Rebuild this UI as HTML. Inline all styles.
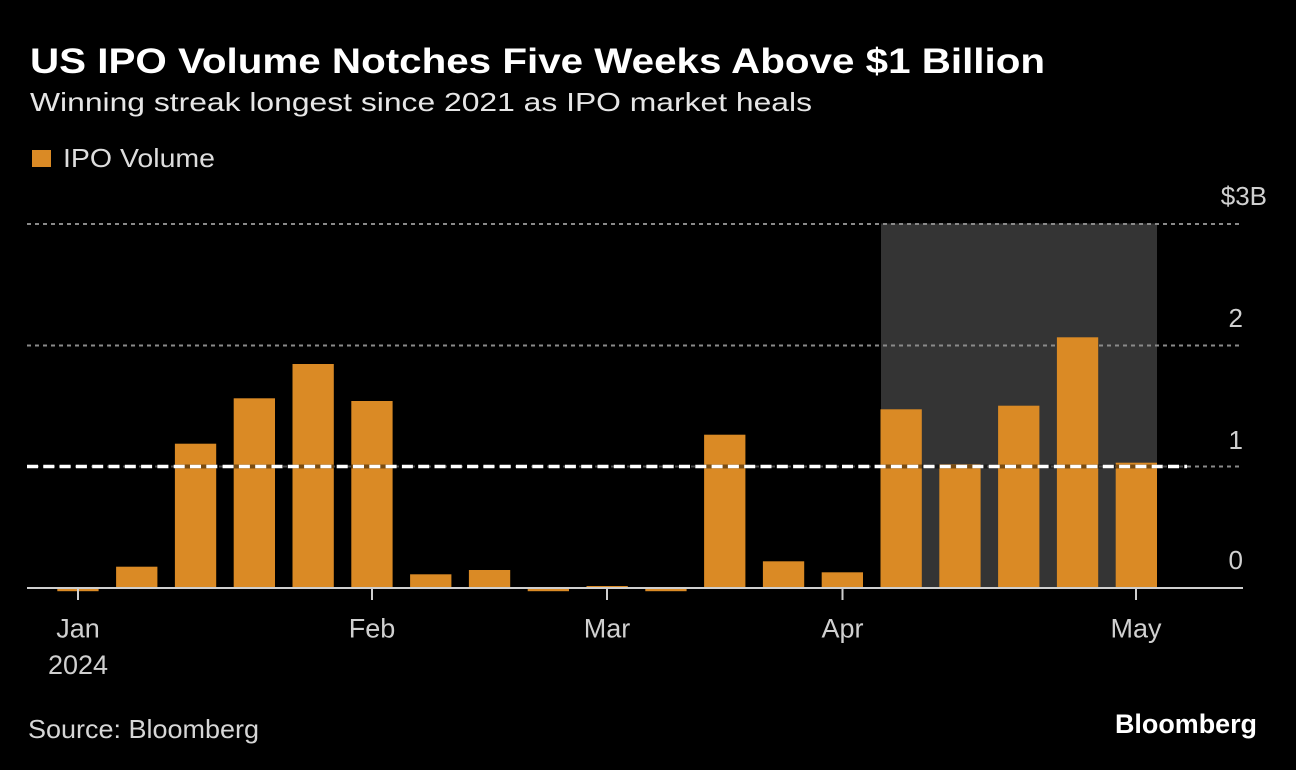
<!DOCTYPE html>
<html>
<head>
<meta charset="utf-8">
<style>
html,body{margin:0;padding:0;background:#000;}
svg{display:block;}
text{font-family:"Liberation Sans","DejaVu Sans",sans-serif;}
</style>
</head>
<body>
<svg width="1296" height="770" viewBox="0 0 1296 770" xmlns="http://www.w3.org/2000/svg">
<rect x="0" y="0" width="1296" height="770" fill="#000"/>

<!-- Title / subtitle -->
<text x="30" y="73" font-size="35" font-weight="bold" fill="#ffffff" textLength="1015" lengthAdjust="spacingAndGlyphs">US IPO Volume Notches Five Weeks Above $1 Billion</text>
<text x="30" y="111" font-size="26" fill="#e6e6e6" textLength="782" lengthAdjust="spacingAndGlyphs">Winning streak longest since 2021 as IPO market heals</text>

<!-- Legend -->
<rect x="32" y="150" width="19" height="17" fill="#DA8A25"/>
<text x="63" y="167" font-size="26" fill="#dddddd" textLength="152" lengthAdjust="spacingAndGlyphs">IPO Volume</text>

<!-- Shaded region -->
<rect x="881" y="223.5" width="276" height="364.5" fill="#343434"/>

<!-- Gridlines -->
<g stroke="#8a8a8a" stroke-width="2" stroke-dasharray="4 4">
  <line x1="27" y1="224" x2="1242" y2="224"/>
  <line x1="27" y1="345.5" x2="1242" y2="345.5"/>
  <line x1="27" y1="466.5" x2="1242" y2="466.5"/>
</g>

<!-- Bars -->
<g fill="#DA8A25">
  <rect x="116.1" y="566.7" width="41.3" height="21.3"/>
  <rect x="174.9" y="443.7" width="41.3" height="144.3"/>
  <rect x="233.7" y="398.3" width="41.3" height="189.7"/>
  <rect x="292.5" y="364" width="41.3" height="224"/>
  <rect x="351.3" y="401" width="41.3" height="187"/>
  <rect x="410.1" y="574.3" width="41.3" height="13.7"/>
  <rect x="468.9" y="570" width="41.3" height="18"/>
  <rect x="586.5" y="586" width="41.3" height="2"/>
  <rect x="704.1" y="434.7" width="41.3" height="153.3"/>
  <rect x="762.9" y="561.3" width="41.3" height="26.7"/>
  <rect x="821.7" y="572.3" width="41.3" height="15.7"/>
  <rect x="880.5" y="409.3" width="41.3" height="178.7"/>
  <rect x="939.3" y="464.3" width="41.3" height="123.7"/>
  <rect x="998.1" y="405.7" width="41.3" height="182.3"/>
  <rect x="1056.9" y="337.3" width="41.3" height="250.7"/>
  <rect x="1115.7" y="462.7" width="41.3" height="125.3"/>
</g>

<!-- $1B threshold dashed line -->
<line x1="27" y1="466.5" x2="1187" y2="466.5" stroke="rgba(0,0,0,0.45)" stroke-width="4"/>
<line x1="27" y1="466.5" x2="1187" y2="466.5" stroke="#ffffff" stroke-width="3.5" stroke-dasharray="11 5.3"/>

<!-- Axis -->
<line x1="27" y1="588" x2="1243" y2="588" stroke="#cfcfcf" stroke-width="2"/>
<!-- negative bars (drawn below axis) -->
<g fill="#DA8A25">
  <rect x="57.3" y="589" width="41.3" height="2.2"/>
  <rect x="527.7" y="589" width="41.3" height="2.2"/>
  <rect x="645.3" y="589" width="41.3" height="2.2"/>
</g>
<g stroke="#cfcfcf" stroke-width="2">
  <line x1="78" y1="588" x2="78" y2="600"/>
  <line x1="372" y1="588" x2="372" y2="600"/>
  <line x1="607" y1="588" x2="607" y2="600"/>
  <line x1="842.5" y1="588" x2="842.5" y2="600"/>
  <line x1="1136" y1="588" x2="1136" y2="600"/>
</g>

<!-- Y labels -->
<g font-size="26" fill="#d0d0d0">
  <text x="1267" y="205" text-anchor="end">$3B</text>
  <text x="1243" y="327" text-anchor="end">2</text>
  <text x="1243" y="449" text-anchor="end">1</text>
  <text x="1243" y="569" text-anchor="end">0</text>
</g>

<!-- X labels -->
<g font-size="27" fill="#d0d0d0" text-anchor="middle">
  <text x="78" y="637.5">Jan</text>
  <text x="78" y="674">2024</text>
  <text x="372" y="637.5">Feb</text>
  <text x="607" y="637.5">Mar</text>
  <text x="842.5" y="637.5">Apr</text>
  <text x="1136" y="637.5">May</text>
</g>

<!-- Footer -->
<text x="28" y="738" font-size="26" fill="#d6d6d6" textLength="231" lengthAdjust="spacingAndGlyphs">Source: Bloomberg</text>
<text x="1115" y="733" font-size="27" font-weight="bold" fill="#ffffff" textLength="142" lengthAdjust="spacingAndGlyphs">Bloomberg</text>
</svg>
</body>
</html>
